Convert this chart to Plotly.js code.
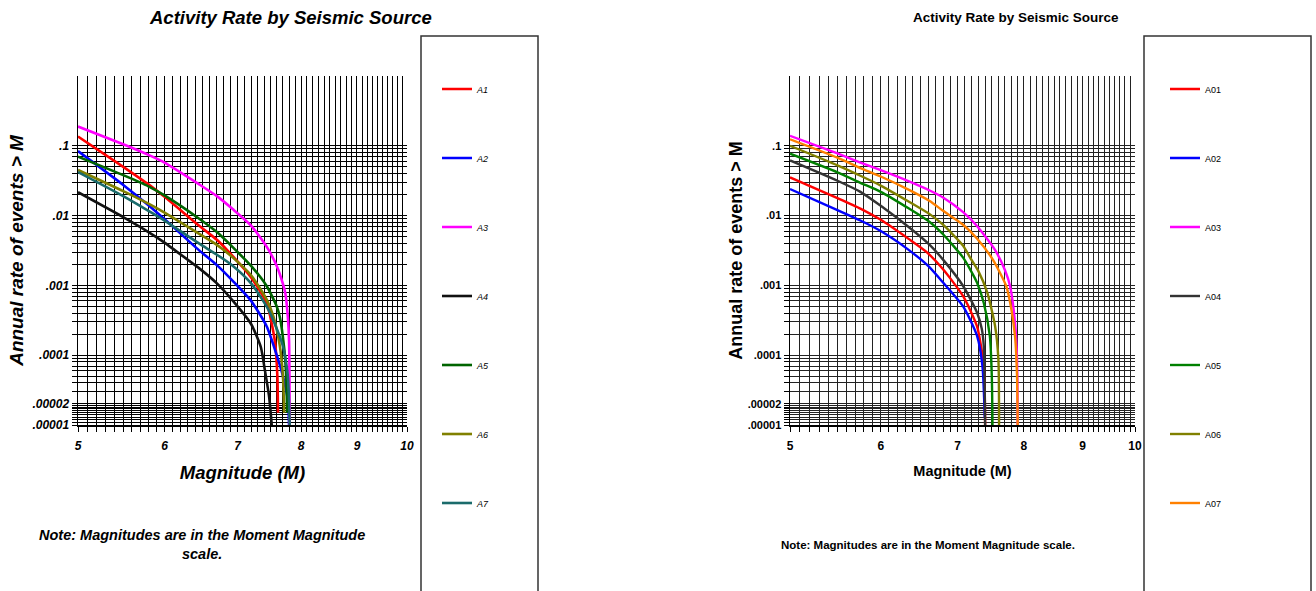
<!DOCTYPE html>
<html>
<head>
<meta charset="utf-8">
<script src="https://cdn.plot.ly/plotly-3.0.1.min.js"></script>
<style>html,body{margin:0;padding:0;background:#fff;}#chart{width:1316px;height:591px;}</style>
</head>
<body>
<div id="chart"></div>
<script>
// ---------- Data ----------
const chartTitle = "Activity Rate by Seismic Source";
const xAxisTitle = "Magnitude (M)";
const yAxisTitleLeft = "Annual rate of events > M";
const yAxisTitleRight = "Annual rate of events > M";
const noteLeft = "Note: Magnitudes are in the Moment Magnitude<br>scale.";
const noteRight = "Note: Magnitudes are in the Moment Magnitude scale.";

const xTickVals = [5, 6, 7, 8, 9, 10];
const xTickText = ["5", "6", "7", "8", "9", "10"];
const yTickVals = [0.1, 0.01, 0.001, 0.0001, 0.00002, 0.00001];
const yTickText = [".1", ".01", ".001", ".0001", ".00002", ".00001"];

// Left chart: sources A1..A7
const leftNames = ["A1", "A2", "A3", "A4", "A5", "A6", "A7"];
const leftColors = ["#ff0000", "#0000ff", "#ff00ff", "#111111", "#006400", "#808000", "#1a6b6b"];

const a1_M    = [5.0, 5.5, 5.8, 6.0, 6.45, 6.7, 6.93, 7.2, 7.44, 7.57, 7.61, 7.62];
const a1_rate = [0.136, 0.050, 0.028, 0.0186, 0.0072, 0.0045, 0.0026, 0.0013, 0.00056, 0.00016, 0.00005, 0.000015];
const a2_M    = [5.0, 5.5, 5.8, 6.0, 6.45, 6.7, 6.93, 7.2, 7.44, 7.6, 7.7, 7.78, 7.8];
const a2_rate = [0.084, 0.0275, 0.0141, 0.0089, 0.0032, 0.00195, 0.00115, 0.0006, 0.00026, 0.0001, 0.00005, 0.000023, 0.00001];
const a3_M    = [5.0, 5.5, 5.8, 6.0, 6.45, 6.7, 6.93, 7.2, 7.44, 7.6, 7.7, 7.74, 7.78, 7.8, 7.81];
const a3_rate = [0.189, 0.105, 0.074, 0.0575, 0.0282, 0.019, 0.0123, 0.0072, 0.0036, 0.0019, 0.00105, 0.00076, 0.00035, 0.00016, 0.00001];
const a4_M    = [5.0, 5.5, 5.8, 6.0, 6.13, 6.46, 6.7, 6.93, 7.2, 7.35, 7.41, 7.48, 7.52];
const a4_rate = [0.0216, 0.0095, 0.0058, 0.0041, 0.0032, 0.00174, 0.00107, 0.0006, 0.00028, 0.00013, 0.000063, 0.000025, 0.00001];
const a5_M    = [5.0, 5.5, 5.8, 6.0, 6.45, 6.7, 6.93, 7.2, 7.44, 7.6, 7.65, 7.72, 7.75, 7.77];
const a5_rate = [0.070, 0.038, 0.0263, 0.0195, 0.0091, 0.0058, 0.0035, 0.0019, 0.00098, 0.0005, 0.00035, 0.000126, 0.000056, 0.000015];
const a6_M    = [5.0, 5.5, 5.8, 6.0, 6.45, 6.7, 6.93, 7.2, 7.44, 7.55, 7.65, 7.7, 7.72];
const a6_rate = [0.045, 0.0224, 0.0148, 0.011, 0.0055, 0.0038, 0.0025, 0.0014, 0.00063, 0.00035, 0.000135, 0.00005, 0.000015];
const a7_M    = [5.0, 5.5, 5.8, 6.0, 6.45, 6.7, 6.93, 7.2, 7.44, 7.6, 7.7, 7.78, 7.81];
const a7_rate = [0.042, 0.019, 0.0117, 0.0085, 0.004, 0.00275, 0.0019, 0.00107, 0.0005, 0.00024, 0.000135, 0.00005, 0.00001];

// Right chart: sources A01..A07
const rightNames = ["A01", "A02", "A03", "A04", "A05", "A06", "A07"];
const rightColors = ["#ff0000", "#0000ff", "#ff00ff", "#333333", "#008000", "#808000", "#ff8000"];

const b1_M    = [5.0, 5.5, 5.76, 6.0, 6.35, 6.58, 6.8, 7.08, 7.28, 7.38, 7.4];
const b1_rate = [0.0353, 0.0178, 0.0126, 0.0087, 0.0046, 0.003, 0.0017, 0.0007, 0.00026, 0.00007, 0.00001];
const b2_M    = [5.0, 5.5, 5.76, 6.0, 6.35, 6.6, 6.8, 7.08, 7.28, 7.36, 7.395];
const b2_rate = [0.024, 0.012, 0.0085, 0.006, 0.0032, 0.0019, 0.0011, 0.0005, 0.00019, 0.00007, 0.0000126];
const b3_M    = [5.0, 5.5, 5.76, 6.0, 6.35, 6.62, 6.8, 7.08, 7.28, 7.55, 7.7, 7.78, 7.86, 7.89, 7.9];
const b3_rate = [0.139, 0.0776, 0.0575, 0.0447, 0.0309, 0.0229, 0.0182, 0.0112, 0.0071, 0.0032, 0.00166, 0.00098, 0.00028, 0.000087, 0.00001];
const b4_M    = [5.0, 5.5, 5.76, 6.0, 6.35, 6.62, 6.8, 7.08, 7.28, 7.35, 7.38, 7.4];
const b4_rate = [0.0617, 0.0316, 0.0219, 0.0138, 0.0068, 0.0038, 0.00234, 0.00098, 0.00041, 0.00024, 0.000135, 0.00001];
const b5_M    = [5.0, 5.5, 5.76, 6.0, 6.35, 6.62, 6.8, 7.08, 7.18, 7.28, 7.38, 7.47, 7.5, 7.51];
const b5_rate = [0.077, 0.0417, 0.0295, 0.0219, 0.0126, 0.0081, 0.0054, 0.0025, 0.0017, 0.0011, 0.00056, 0.00019, 0.00005, 0.00001];
const b6_M    = [5.0, 5.5, 5.76, 6.0, 6.35, 6.62, 6.8, 7.08, 7.18, 7.3, 7.43, 7.55, 7.6, 7.61];
const b6_rate = [0.1, 0.0525, 0.0372, 0.0269, 0.0158, 0.0105, 0.0074, 0.0037, 0.0025, 0.0016, 0.0008, 0.00026, 0.000087, 0.00001];
const b7_M    = [5.0, 5.5, 5.76, 6.0, 6.35, 6.62, 6.8, 7.08, 7.28, 7.52, 7.72, 7.8, 7.86, 7.89, 7.9];
const b7_rate = [0.124, 0.0676, 0.0479, 0.0363, 0.0234, 0.0162, 0.0117, 0.0074, 0.0047, 0.0023, 0.00098, 0.00046, 0.00018, 0.00005, 0.00001];

const leftX = [a1_M, a2_M, a3_M, a4_M, a5_M, a6_M, a7_M];
const leftY = [a1_rate, a2_rate, a3_rate, a4_rate, a5_rate, a6_rate, a7_rate];
const rightX = [b1_M, b2_M, b3_M, b4_M, b5_M, b6_M, b7_M];
const rightY = [b1_rate, b2_rate, b3_rate, b4_rate, b5_rate, b6_rate, b7_rate];

// ---------- Grid helpers ----------
const xMinor = [];
for (let i = 50; i <= 100; i++) xMinor.push(i / 10);
const yMinor = [];
for (let d = -5; d <= -2; d++) for (let k = 1; k <= 9; k++) yMinor.push(k * Math.pow(10, d));
yMinor.push(0.1);
for (let k = 11; k <= 19; k++) yMinor.push(k * 1e-6);

const F = "Liberation Sans, Arial, sans-serif";

// ---------- Traces ----------
const traces = [];
for (let i = 0; i < leftNames.length; i++) {
  traces.push({x: leftX[i], y: leftY[i], name: leftNames[i], type: 'scatter', mode: 'lines',
    line: {color: leftColors[i], width: 2.6, shape: 'spline', smoothing: 0.6},
    xaxis: 'x', yaxis: 'y', legend: 'legend', legendgroup: 'L' + i});
}
for (let i = 0; i < rightNames.length; i++) {
  traces.push({x: rightX[i], y: rightY[i], name: rightNames[i], type: 'scatter', mode: 'lines',
    line: {color: rightColors[i], width: 2.4, shape: 'spline', smoothing: 0.6},
    xaxis: 'x2', yaxis: 'y2', legend: 'legend2', legendgroup: 'R' + i});
}

function xAxis(domain, anchor, tickFont, titleFont, grid) {
  return {domain: domain, anchor: anchor, type: 'log', range: [Math.log10(5), 1],
    tickmode: 'array', tickvals: xTickVals, ticktext: xTickText, tickfont: tickFont, ticklabelstandoff: 4,
    showgrid: true, gridcolor: grid, gridwidth: 1, zeroline: false,
    showline: true, linecolor: '#000', linewidth: 1.5, ticks: 'outside', ticklen: 5, tickcolor: '#000',
    minor: {tickmode: 'array', tickvals: xMinor, showgrid: true, gridcolor: grid, gridwidth: 1, ticks: 'outside', ticklen: 5, tickcolor: '#000'},
    title: {text: xAxisTitle, font: titleFont, standoff: 14}};
}
function yAxis(anchor, tickFont, title, titleFont, grid, standoff) {
  return {domain: [1 - 425 / 591, 1 - 76 / 591], anchor: anchor, type: 'log', range: [-5, 0],
    tickmode: 'array', tickvals: yTickVals, ticktext: yTickText, tickfont: tickFont,
    showgrid: true, gridcolor: grid, gridwidth: 1, zeroline: false,
    showline: true, linecolor: '#000', linewidth: 1.5, ticks: 'outside', ticklen: 5, tickcolor: '#000',
    minor: {tickmode: 'array', tickvals: yMinor, showgrid: true, gridcolor: grid, gridwidth: 1, ticks: 'outside', ticklen: 5, tickcolor: '#000'},
    title: {text: title, font: titleFont, standoff: standoff}};
}

const layout = {
  width: 1316, height: 591,
  margin: {l: 0, r: 0, t: 0, b: 0},
  paper_bgcolor: '#fff', plot_bgcolor: '#fff',
  showlegend: true,
  xaxis: xAxis([78 / 1316, 407 / 1316], 'y',
    {family: F, size: 12, weight: 'bold', style: 'italic', color: '#000'},
    {family: F, size: 18.5, weight: 'bold', style: 'italic', color: '#000'}, '#000'),
  yaxis: yAxis('x', {family: F, size: 12, weight: 'bold', style: 'italic', color: '#000'},
    yAxisTitleLeft, {family: F, size: 19, weight: 'bold', style: 'italic', color: '#000'}, '#000', 3),
  xaxis2: xAxis([790 / 1316, 1135 / 1316], 'y2',
    {family: F, size: 12, weight: 'bold', color: '#000'},
    {family: F, size: 14.5, weight: 'bold', color: '#000'}, '#222'),
  yaxis2: yAxis('x2', {family: F, size: 11, weight: 'bold', color: '#000'},
    yAxisTitleRight, {family: F, size: 18, weight: 'bold', color: '#000'}, '#222', 0),
  legend: {x: 437 / 1316, xanchor: 'left', y: 1 - 74.5 / 591, yanchor: 'top', bgcolor: 'rgba(0,0,0,0)',
    borderwidth: 0, tracegroupgap: 50, font: {family: F, size: 9, style: 'italic', color: '#000'}},
  legend2: {x: 1165 / 1316, xanchor: 'left', y: 1 - 74.5 / 591, yanchor: 'top', bgcolor: 'rgba(0,0,0,0)',
    borderwidth: 0, tracegroupgap: 50, font: {family: F, size: 9, color: '#000'}},
  shapes: [
    {type: 'rect', xref: 'paper', yref: 'paper', x0: 421 / 1316, x1: 538 / 1316, y0: -0.02, y1: 1 - 36 / 591, line: {color: '#333', width: 1.5}},
    {type: 'rect', xref: 'paper', yref: 'paper', x0: 1144 / 1316, x1: 1311 / 1316, y0: -0.02, y1: 1 - 36 / 591, line: {color: '#333', width: 1.5}}
  ],
  annotations: [
    {text: chartTitle, xref: 'paper', yref: 'paper', x: 290 / 1316, y: 1 - 17 / 591, xanchor: 'center', yanchor: 'middle', showarrow: false,
      font: {family: F, size: 18.5, weight: 'bold', style: 'italic', color: '#000'}},
    {text: chartTitle, xref: 'paper', yref: 'paper', x: 1016 / 1316, y: 1 - 17 / 591, xanchor: 'center', yanchor: 'middle', showarrow: false,
      font: {family: F, size: 13.5, weight: 'bold', color: '#000'}},
    {text: noteLeft, xref: 'paper', yref: 'paper', x: 202 / 1316, y: 1 - 544 / 591, xanchor: 'center', yanchor: 'middle', showarrow: false,
      align: 'center', font: {family: F, size: 14.5, weight: 'bold', style: 'italic', color: '#000'}},
    {text: noteRight, xref: 'paper', yref: 'paper', x: 928 / 1316, y: 1 - 545 / 591, xanchor: 'center', yanchor: 'middle', showarrow: false,
      font: {family: F, size: 11.5, weight: 'bold', color: '#000'}}
  ]
};

Plotly.newPlot('chart', traces, layout, {staticPlot: true, displayModeBar: false});
</script>
</body>
</html>
